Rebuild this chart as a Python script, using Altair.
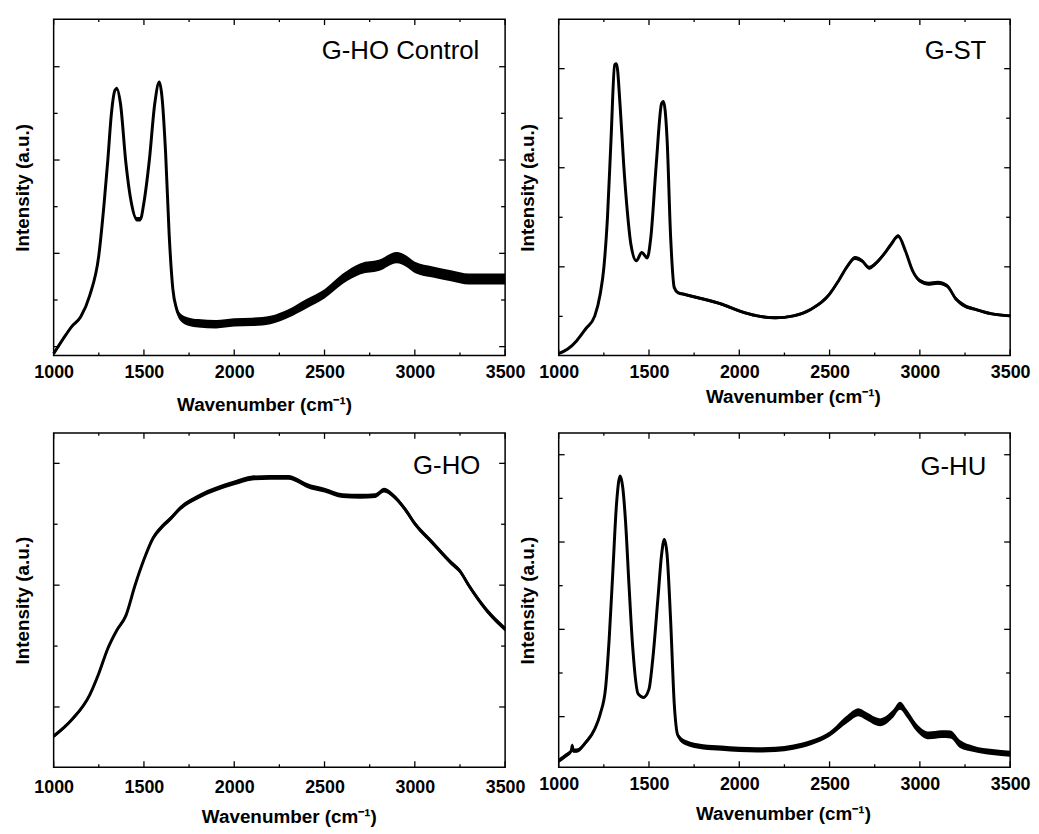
import altair as alt
import pandas as pd

FONT = "Liberation Sans"
X_MAJOR = [1000, 1500, 2000, 2500, 3000, 3500]
X_MINOR = [1250, 1750, 2250, 2750, 3250]
X_TITLE = "Wavenumber (cm⁻¹)"
Y_TITLE = "Intensity (a.u.)"

# ---- G-HO Control ----
p1_wn = [1000, 1050, 1100, 1150, 1200, 1250, 1280, 1300, 1320, 1340, 1350, 1370, 1400, 1430, 1460,
         1480, 1500, 1530, 1560, 1585, 1600, 1620, 1640, 1660, 1680, 1700, 1750, 1800, 1900, 2000,
         2100, 2200, 2300, 2400, 2500, 2600, 2700, 2800, 2900, 2950, 3000, 3100, 3200, 3300, 3400, 3500]
p1_int = [-0.15, 0.15, 0.43, 0.64, 1.10, 1.95, 3.09, 4.0, 5.0, 5.50, 5.53, 5.21, 3.94, 3.09, 2.73,
          2.73, 3.09, 4.0, 5.21, 5.67, 5.35, 4.15, 2.38, 1.24, 0.82, 0.64, 0.53, 0.50, 0.48, 0.52,
          0.53, 0.57, 0.71, 0.92, 1.13, 1.45, 1.67, 1.74, 1.91, 1.84, 1.70, 1.60, 1.52, 1.45, 1.45, 1.45]
p1_noise = [0.02, 0.03, 0.03, 0.03, 0.03, 0.03, 0.03, 0.03, 0.03, 0.04, 0.04, 0.03, 0.03, 0.04, 0.05,
            0.05, 0.04, 0.03, 0.03, 0.03, 0.03, 0.03, 0.03, 0.05, 0.07, 0.08, 0.09, 0.09, 0.09, 0.09,
            0.09, 0.09, 0.09, 0.10, 0.10, 0.11, 0.12, 0.12, 0.12, 0.12, 0.12, 0.12, 0.12, 0.12, 0.12, 0.12]

# ---- G-ST ----
p2_wn = [1000, 1050, 1100, 1150, 1200, 1230, 1250, 1270, 1290, 1310, 1320, 1340, 1360, 1380, 1400,
         1430, 1460, 1490, 1510, 1540, 1570, 1580, 1600, 1620, 1640, 1660, 1700, 1800, 1900, 2000,
         2100, 2200, 2300, 2400, 2500, 2550, 2600, 2640, 2680, 2720, 2750, 2800, 2840, 2880, 2920,
         2960, 3000, 3050, 3100, 3150, 3200, 3250, 3300, 3400, 3500]
p2_int = [-0.75, -0.66, -0.49, -0.25, 0.01, 0.45, 0.98, 1.99, 3.59, 5.08, 5.10, 4.26, 3.06, 2.12, 1.45,
          1.12, 1.29, 1.18, 1.59, 3.06, 4.30, 4.34, 3.59, 1.59, 0.58, 0.48, 0.44, 0.35, 0.25, 0.11,
          0.01, -0.03, 0.01, 0.15, 0.45, 0.72, 1.02, 1.18, 1.12, 0.98, 1.05, 1.25, 1.45, 1.62, 1.32,
          0.92, 0.72, 0.66, 0.68, 0.62, 0.35, 0.21, 0.15, 0.05, 0.01]
p2_noise = [0.02] * 26 + [0.03] * 8 + [0.04] * 18 + [0.03] * 3

# ---- G-HO ----
p3_wn = [1000, 1100, 1200, 1250, 1300, 1350, 1400, 1450, 1500, 1550, 1600, 1650, 1700, 1800, 1900,
         2000, 2100, 2200, 2300, 2350, 2400, 2500, 2600, 2700, 2780, 2830, 2880, 2950, 3000, 3100,
         3200, 3250, 3300, 3400, 3500]
p3_int = [-0.48, -0.21, 0.20, 0.55, 0.96, 1.26, 1.50, 1.99, 2.42, 2.77, 2.96, 3.10, 3.26, 3.45, 3.58,
          3.68, 3.76, 3.77, 3.77, 3.72, 3.64, 3.56, 3.47, 3.46, 3.47, 3.56, 3.47, 3.23, 3.01, 2.69,
          2.37, 2.23, 1.99, 1.58, 1.28]
p3_noise = [0.03] * 9 + [0.04] * 26

# ---- G-HU ----
p4_wn = [1000, 1040, 1070, 1075, 1080, 1100, 1150, 1200, 1230, 1260, 1280, 1300, 1320, 1340, 1355,
         1370, 1390, 1410, 1440, 1470, 1500, 1520, 1550, 1570, 1585, 1600, 1620, 1640, 1660, 1700,
         1800, 1900, 2000, 2100, 2200, 2300, 2400, 2500, 2600, 2660, 2700, 2780, 2850, 2890, 2930,
         2980, 3050, 3120, 3170, 3220, 3300, 3400, 3500]
p4_int = [-1.01, -0.89, -0.78, -0.66, -0.78, -0.78, -0.59, -0.28, 0.06, 0.67, 1.81, 3.34, 4.86, 5.51, 5.24,
          4.48, 2.96, 1.58, 0.52, 0.44, 0.63, 1.28, 2.73, 3.72, 4.06, 3.72, 2.19, 0.29, -0.43, -0.59,
          -0.69, -0.72, -0.75, -0.76, -0.75, -0.70, -0.59, -0.40, -0.05, 0.10, 0.02, -0.13, 0.06, 0.25, 0.06,
          -0.24, -0.43, -0.40, -0.41, -0.62, -0.74, -0.81, -0.85]
p4_noise = [0.05] * 10 + [0.03] * 18 + [0.06] * 10 + [0.09] * 12 + [0.07] * 3

W = 455


def panel(label, wn, inten, noise, ydom, ymaj, ymin, h, lab_pad, tit_pad, tit_x, lab_x, lab_y):
    df = pd.DataFrame({
        "wn": wn, "i": inten,
        "lo": [a - b for a, b in zip(inten, noise)],
        "hi": [a + b for a, b in zip(inten, noise)],
    })
    xs = alt.Scale(domain=[1000, 3500], nice=False, zero=False)
    ys = alt.Scale(domain=ydom, nice=False, zero=False)
    xa = alt.Axis(values=X_MAJOR, ticks=False, tickSize=0, domain=False, grid=False,
                  labelFlush=False, labelPadding=lab_pad, format="d", title=X_TITLE,
                  titlePadding=tit_pad, titleX=tit_x)
    ya = alt.Axis(labels=False, ticks=False, tickSize=0, domain=False, grid=False,
                  title=Y_TITLE, titlePadding=21)

    line = alt.Chart(df).mark_line(color="black", strokeWidth=3, interpolate="monotone").encode(
        x=alt.X("wn:Q", scale=xs, axis=xa), y=alt.Y("i:Q", scale=ys, axis=ya))
    band = alt.Chart(df).mark_area(color="black", interpolate="monotone").encode(
        x=alt.X("wn:Q", scale=xs, axis=xa), y=alt.Y("lo:Q", scale=ys, axis=ya), y2="hi:Q")

    layers = [band, line]
    for vals, ln in ((X_MAJOR, 6), (X_MINOR, 3)):
        tdf = pd.DataFrame({"t": vals})
        xt = alt.X("t:Q", scale=xs, axis=xa)
        layers.append(alt.Chart(tdf).mark_rule(color="black", strokeWidth=1.3).encode(
            x=xt, y=alt.value(h), y2=alt.value(h - ln)))
        layers.append(alt.Chart(tdf).mark_rule(color="black", strokeWidth=1.3).encode(
            x=xt, y=alt.value(0), y2=alt.value(ln)))
    for vals, ln in ((ymaj, 6), (ymin, 4)):
        tdf = pd.DataFrame({"t": vals})
        yt = alt.Y("t:Q", scale=ys, axis=ya)
        layers.append(alt.Chart(tdf).mark_rule(color="black", strokeWidth=1.3).encode(
            y=yt, x=alt.value(0), x2=alt.value(ln)))
        layers.append(alt.Chart(tdf).mark_rule(color="black", strokeWidth=1.3).encode(
            y=yt, x=alt.value(W), x2=alt.value(W - ln)))
    txt = alt.Chart(pd.DataFrame({"l": [label]})).mark_text(
        align="right", baseline="alphabetic", font=FONT, fontSize=26, color="black").encode(
        x=alt.value(W - lab_x), y=alt.value(lab_y), text="l:N")
    layers.append(txt)
    return alt.layer(*layers).properties(width=W, height=h)


c1 = panel("G-HO Control", p1_wn, p1_int, p1_noise, [-0.19, 7.02], [0, 2, 4, 6], [1, 3, 5], 339,
           8, 14, 212, 26, 40)
c2 = panel("G-ST", p2_wn, p2_int, p2_noise, [-0.79, 6.0], [1, 3, 5], [0, 2, 4], 339,
           8, 6, 236, 24, 40)
c3 = panel("G-HO", p3_wn, p3_int, p3_noise, [-0.99, 4.50], [0, 2, 4], [1, 3], 337,
           11, 12, 237, 25, 41)
c4 = panel("G-HU", p4_wn, p4_int, p4_noise, [-1.16, 6.50], [0, 2, 4, 6], [1, 3, 5], 337,
           8, 12, 226, 24, 42)

top = alt.hconcat(c1, c2, spacing=54, bounds="flush")
bottom = alt.hconcat(c3, c4, spacing=54, bounds="flush")
chart = alt.vconcat(top, bottom, spacing=16).properties(
    padding={"left": 5, "top": 6, "right": 0, "bottom": 0}
).configure_view(stroke="black", strokeWidth=1.5).configure_axis(
    labelFont=FONT, titleFont=FONT, labelFontSize=18, titleFontSize=19,
    labelFontWeight="bold", titleFontWeight="bold", labelColor="black", titleColor="black"
)

chart.save("out.html", embed_options={"renderer": "svg", "actions": False})
